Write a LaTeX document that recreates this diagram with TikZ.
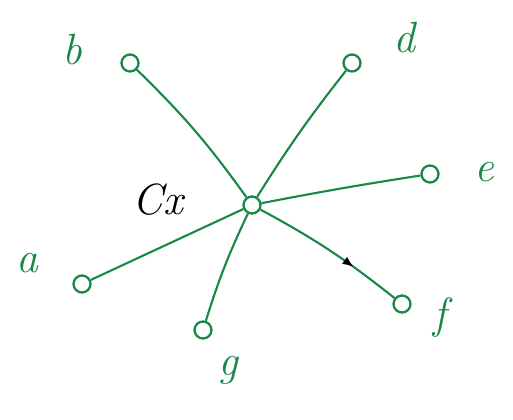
\documentclass[tikz,border=0pt]{standalone}
\usepackage{tikz}
\usetikzlibrary{calc,arrows.meta,decorations.markings}

\definecolor{inkgreen}{RGB}{25,135,70}

\tikzset{
  vert/.style={circle, draw=inkgreen, line width=1.3pt, inner sep=0pt, minimum size=0.34cm},
  edge/.style={draw=inkgreen, line width=1.2pt},
  lbl/.style={text=inkgreen, font=\Huge\itshape},
  midarrow/.style={postaction={decorate}, decoration={markings,
    mark=at position 0.68 with {\arrow[black]{Latex[length=2.2mm,width=1.8mm]}}}}
}

\begin{document}
\begin{tikzpicture}[x=0.02cm,y=-0.02cm]

% --- Page frame (513 x 419) ---
\useasboundingbox (0,0) rectangle (513,419);

% --- Vertices ---
\node[vert] (c) at (252,205) {};
\node[vert] (b) at (130,63) {};
\node[vert] (d) at (352,63) {};
\node[vert] (e) at (430,174) {};
\node[vert] (a) at (82,284) {};
\node[vert] (f) at (402,304) {};
\node[vert] (g) at (203,330) {};

% --- Vertex names ---
\node[lbl] (lb) at (72,50) {b};
\node[lbl] (ld) at (404,38) {d};
\node[lbl] (le) at (484,172) {e};
\node[lbl] (la) at (27,263) {a};
\node[lbl] (lf) at (440,318) {f};
\node[lbl] (lg) at (228,370) {g};
\node[font=\Huge\itshape] (lc) at (158,200) {Cx};

% --- Edges from the centre ---
\draw[edge] (c) to[bend right=5] (b);
\draw[edge] (c) to[bend left=3] (d);
\draw[edge] (c) to[bend left=1] (e);
\draw[edge] (c) -- (a);
\draw[edge] (c) to[bend right=4] (g);
\draw[edge, midarrow] (c) to[bend left=5] (f);

\end{tikzpicture}
\end{document}
